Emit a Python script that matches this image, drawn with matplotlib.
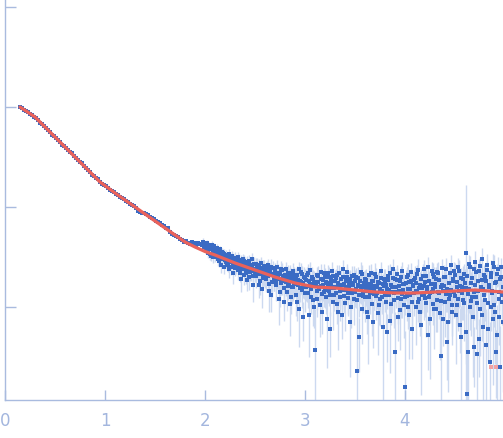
import matplotlib
matplotlib.use('Agg')
import matplotlib.pyplot as plt
from matplotlib.ticker import NullLocator
import numpy as np

# low-q part of the curve (log10 intensity), q step 0.02 from 0.15
logi_lo = [0.00, -0.01, -0.03, -0.04, -0.05, -0.07, -0.08, -0.10, -0.11, -0.13,
           -0.16, -0.17, -0.19, -0.21, -0.23, -0.25, -0.28, -0.29, -0.31, -0.33,
           -0.35, -0.38, -0.39, -0.41, -0.43, -0.45, -0.46, -0.49, -0.51, -0.53,
           -0.55, -0.56, -0.59, -0.61, -0.63, -0.65, -0.68, -0.69, -0.71, -0.72,
           -0.75, -0.77, -0.78, -0.79, -0.81, -0.83, -0.84, -0.85, -0.87, -0.88,
           -0.90, -0.91, -0.92, -0.94, -0.95, -0.97, -0.98, -0.99, -1.01, -1.04,
           -1.05, -1.06, -1.06, -1.07, -1.08, -1.10, -1.11, -1.12, -1.14, -1.15,
           -1.16, -1.18, -1.19, -1.21, -1.21, -1.25, -1.27, -1.28, -1.29, -1.30,
           -1.32, -1.33, -1.35, -1.34, -1.36, -1.37, -1.35, -1.36, -1.38, -1.36,
           -1.37]

# high-q noisy part (log10 intensity), q step 0.01 from 1.97
logi_hi = [-1.38, -1.35, -1.40,
           -1.39, -1.41, -1.36, -1.44, -1.40, -1.47, -1.42, -1.38, -1.50, -1.43,
           -1.44, -1.47, -1.41, -1.52, -1.46, -1.49, -1.58, -1.45, -1.50, -1.47,
           -1.53, -1.48, -1.56, -1.50, -1.62, -1.52, -1.55, -1.49, -1.66, -1.54,
           -1.51, -1.58, -1.55, -1.63, -1.53, -1.57, -1.72, -1.56, -1.60, -1.54,
           -1.59, -1.66, -1.55, -1.62, -1.70, -1.58, -1.64, -1.60, -1.78, -1.57,
           -1.62, -1.69, -1.58, -1.66, -1.60, -1.74, -1.64, -1.82, -1.61, -1.68,
           -1.65, -1.72, -1.62, -1.69, -1.84, -1.66, -1.60, -1.75, -1.67, -1.71,
           -1.64, -1.78, -1.70, -1.66, -1.92, -1.72, -1.62, -1.74, -1.69, -1.81,
           -1.68, -1.75, -1.85, -1.66, -1.72, -1.97, -1.70, -1.80, -1.64, -1.76,
           -1.72, -1.88, -1.68, -1.78, -2.02, -1.74, -1.65, -1.83, -1.76, -1.70,
           -1.86, -1.73, -1.79, -1.66, -2.08, -1.77, -1.82, -1.70, -1.93, -1.75,
           -2.43, -1.76, -1.84, -1.69, -1.80, -1.98, -1.72, -1.87, -1.78, -1.66,
           -1.83, -1.75, -2.12, -1.79, -1.70, -1.88, -1.77, -1.64, -1.95, -1.81,
           -1.74, -1.86, -1.68, -2.05, -1.79, -1.90, -1.72, -1.83, -1.62, -1.77,
           -1.96, -1.80, -1.70, -1.86, -1.75, -2.15, -1.84, -1.69, -1.78, -1.92,
           -1.74, -1.82, -2.64, -1.71, -1.88, -1.79, -1.65, -2.02, -1.85, -1.76,
           -1.90, -1.73, -1.81, -2.10, -1.68, -1.86, -1.78, -1.97, -1.74, -1.83,
           -1.67, -1.89, -1.80, -2.06, -1.76, -1.92, -1.71, -1.84, -2.20, -1.79,
           -1.74, -1.95, -1.82, -1.69, -1.88, -2.14, -1.78, -1.85, -1.62, -1.93,
           -2.45, -1.80, -1.73, -1.91, -1.84, -2.03, -1.70, -1.87, -1.77, -1.98,
           -2.80, -1.76, -1.89, -1.68, -2.08, -1.82, -1.74, -1.95, -1.79, -1.86,
           -1.71, -2.00, -1.84, -1.63, -1.92, -1.78, -2.18, -1.81, -1.69, -1.88,
           -1.75, -1.96, -1.83, -1.60, -1.90, -2.12, -1.77, -1.85, -1.67, -2.02,
           -1.80, -1.72, -1.93, -1.66, -1.86, -2.06, -2.49, -1.78, -1.84, -1.70,
           -1.95, -1.62, -1.82, -2.15, -1.76, -1.88, -1.58, -1.98, -1.74, -1.85,
           -1.68, -2.08, -1.80, -1.92, -1.64, -1.79, -2.30, -1.86, -1.72, -1.96,
           -1.76, -1.46, -2.87, -2.45, -1.82, -1.60, -1.94, -1.71, -2.10, -1.85,
           -1.55, -1.90, -2.47, -1.74, -1.64, -2.02, -1.80, -1.52, -2.20, -1.88,
           -1.70, -2.38, -1.58, -1.96, -1.78, -2.55, -1.66, -1.84, -2.12, -1.60,
           -2.05, -1.75, -2.28, -1.62, -1.92, -2.60, -1.70, -1.88, -2.15]

# relative errors of the high-q points
relerr_hi = [0.08, 0.09, 0.08,
             0.09, 0.10, 0.08, 0.11, 0.09, 0.12, 0.10, 0.09, 0.13, 0.10,
             0.10, 0.12, 0.09, 0.14, 0.11, 0.12, 0.16, 0.10, 0.13, 0.12,
             0.14, 0.12, 0.16, 0.13, 0.19, 0.14, 0.15, 0.12, 0.22, 0.15,
             0.14, 0.18, 0.16, 0.21, 0.15, 0.17, 0.26, 0.16, 0.19, 0.15,
             0.18, 0.22, 0.16, 0.20, 0.26, 0.17, 0.21, 0.19, 0.32, 0.17,
             0.19, 0.24, 0.17, 0.22, 0.19, 0.28, 0.21, 0.36, 0.19, 0.23,
             0.21, 0.26, 0.19, 0.24, 0.38, 0.22, 0.19, 0.29, 0.23, 0.26,
             0.20, 0.31, 0.24, 0.22, 0.45, 0.26, 0.20, 0.28, 0.24, 0.34,
             0.22, 0.28, 0.36, 0.21, 0.26, 0.52, 0.24, 0.32, 0.21, 0.29,
             0.25, 0.38, 0.23, 0.30, 0.58, 0.27, 0.22, 0.34, 0.29, 0.25,
             0.36, 0.27, 0.31, 0.23, 0.62, 0.30, 0.34, 0.25, 0.45, 0.29,
             1.60, 0.29, 0.35, 0.25, 0.32, 0.52, 0.27, 0.38, 0.31, 0.24,
             0.34, 0.29, 0.68, 0.32, 0.26, 0.39, 0.31, 0.23, 0.48, 0.33,
             0.29, 0.38, 0.26, 0.58, 0.32, 0.42, 0.28, 0.35, 0.24, 0.31,
             0.48, 0.33, 0.27, 0.38, 0.30, 0.72, 0.36, 0.27, 0.32, 0.45,
             0.30, 0.35, 2.40, 0.28, 0.40, 0.33, 0.26, 0.55, 0.37, 0.31,
             0.44, 0.30, 0.35, 0.66, 0.27, 0.39, 0.33, 0.52, 0.30, 0.37,
             0.28, 0.42, 0.35, 0.62, 0.32, 0.46, 0.29, 0.38, 0.82, 0.34,
             0.31, 0.50, 0.37, 0.28, 0.42, 0.70, 0.34, 0.39, 0.26, 0.47,
             1.50, 0.36, 0.31, 0.45, 0.39, 0.60, 0.30, 0.42, 0.34, 0.53,
             2.60, 0.34, 0.44, 0.29, 0.64, 0.38, 0.33, 0.50, 0.36, 0.41,
             0.32, 0.58, 0.40, 0.28, 0.48, 0.36, 0.80, 0.38, 0.31, 0.44,
             0.35, 0.54, 0.40, 0.27, 0.47, 0.75, 0.36, 0.42, 0.30, 0.60,
             0.39, 0.33, 0.52, 0.30, 0.45, 0.66, 1.70, 0.37, 0.42, 0.32,
             0.55, 0.28, 0.41, 0.80, 0.36, 0.48, 0.26, 0.60, 0.35, 0.45,
             0.32, 0.68, 0.40, 0.52, 0.30, 0.39, 1.05, 0.46, 0.34, 0.58,
             0.38, 3.80, 3.00, 1.80, 0.43, 0.30, 0.55, 0.35, 0.75, 0.47,
             0.30, 0.52, 1.70, 0.36, 0.32, 0.66, 0.41, 0.29, 0.85, 0.50,
             0.35, 1.30, 0.30, 0.58, 0.40, 1.50, 0.34, 0.46, 0.78, 0.31,
             0.70, 0.38, 1.00, 0.32, 0.55, 1.60, 0.36, 0.50, 0.80]

# interleaved high-q points, q step 0.01 from 2.005
logi_hi2 = [-1.37, -1.43, -1.40, -1.46, -1.38, -1.42, -1.49, -1.41, -1.44, -1.39,
            -1.50, -1.43, -1.48, -1.45, -1.54, -1.42, -1.49, -1.52, -1.46, -1.60,
            -1.49, -1.55, -1.51, -1.58, -1.47, -1.53, -1.60, -1.50, -1.57, -1.52,
            -1.61, -1.53, -1.57, -1.50, -1.59, -1.66, -1.54, -1.62, -1.52, -1.68,
            -1.56, -1.63, -1.73, -1.58, -1.54, -1.65, -1.60, -1.52, -1.69, -1.62,
            -1.66, -1.57, -1.63, -1.78, -1.60, -1.67, -1.56, -1.71, -1.64, -1.59,
            -1.70, -1.63, -1.67, -1.58, -1.77, -1.64, -1.88, -1.68, -1.61, -1.73,
            -1.68, -1.74, -1.60, -1.71, -1.85, -1.67, -1.76, -1.63, -1.70, -1.95,
            -1.72, -1.62, -1.79, -1.69, -1.76, -1.66, -1.90, -1.74, -1.80, -1.68,
            -1.77, -1.69, -1.95, -1.73, -1.62, -1.81, -1.75, -1.67, -2.10, -1.79,
            -1.71, -1.80, -1.68, -1.86, -1.74, -1.63, -1.90, -1.77, -1.72, -2.00,
            -1.78, -1.68, -1.92, -1.75, -1.82, -1.65, -1.79, -2.05, -1.73, -1.85,
            -1.70, -1.90, -1.76, -1.66, -1.84, -2.22, -1.73, -1.81, -1.69, -1.88,
            -1.80, -1.71, -1.97, -1.76, -1.66, -1.84, -2.08, -1.78, -1.70, -1.89,
            -1.74, -1.83, -1.65, -1.91, -1.79, -1.72, -2.00, -1.86, -1.76, -1.68,
            -1.85, -1.70, -1.93, -1.78, -2.30, -1.74, -1.82, -1.67, -1.89, -1.80,
            -1.72, -1.84, -2.05, -1.77, -1.90, -1.66, -1.81, -1.74, -2.15, -1.87,
            -1.79, -1.70, -1.86, -1.75, -1.98, -1.82, -1.64, -1.90, -1.77, -1.72,
            -1.88, -1.78, -2.25, -1.73, -1.83, -1.66, -1.97, -1.80, -1.71, -1.86,
            -1.72, -1.85, -1.67, -2.10, -1.79, -1.74, -1.92, -1.64, -1.83, -1.77,
            -1.90, -1.70, -1.82, -2.00, -1.75, -1.88, -1.65, -2.22, -1.78, -1.73,
            -1.84, -1.76, -1.67, -1.95, -1.81, -2.05, -1.72, -1.88, -1.62, -1.79,
            -1.91, -1.69, -1.80, -2.28, -1.74, -1.86, -1.64, -1.97, -1.82, -1.70,
            -1.77, -2.02, -1.65, -1.85, -1.73, -1.94, -1.80, -1.61, -2.12, -1.79,
            -1.70, -1.87, -2.35, -1.76, -1.92, -1.66, -1.83, -2.05, -1.72, -1.64,
            -1.89, -1.75, -1.98, -1.60, -1.84, -2.18, -1.71, -1.80, -1.93, -1.67,
            -1.81, -2.25, -1.69, -1.87, -1.57, -2.00, -1.76, -1.90, -1.62, -2.40,
            -1.78, -1.65, -1.96, -1.84, -2.32, -1.59, -1.73, -2.08, -1.82, -1.68,
            -1.93, -1.74, -1.63, -2.22, -1.80, -1.70, -2.00, -1.86, -1.56, -1.98,
            -1.76, -2.45, -1.67, -1.85, -2.10, -1.72, -1.60, -1.95, -1.80, -1.88]

relerr_hi2 = [0.07, 0.09, 0.08, 0.10, 0.07, 0.09, 0.11, 0.08, 0.10, 0.08,
              0.10, 0.09, 0.10, 0.09, 0.12, 0.08, 0.11, 0.12, 0.10, 0.14,
              0.12, 0.13, 0.11, 0.15, 0.11, 0.12, 0.16, 0.11, 0.15, 0.12,
              0.16, 0.13, 0.15, 0.12, 0.16, 0.19, 0.14, 0.17, 0.13, 0.20,
              0.15, 0.18, 0.23, 0.16, 0.14, 0.19, 0.17, 0.14, 0.21, 0.18,
              0.19, 0.15, 0.18, 0.26, 0.17, 0.20, 0.15, 0.23, 0.18, 0.16,
              0.22, 0.18, 0.20, 0.16, 0.25, 0.19, 0.32, 0.21, 0.17, 0.23,
              0.20, 0.24, 0.17, 0.22, 0.30, 0.20, 0.25, 0.18, 0.22, 0.36,
              0.22, 0.18, 0.27, 0.21, 0.25, 0.19, 0.33, 0.23, 0.27, 0.20,
              0.25, 0.21, 0.35, 0.23, 0.18, 0.27, 0.24, 0.20, 0.42, 0.26,
              0.22, 0.27, 0.21, 0.30, 0.24, 0.19, 0.33, 0.25, 0.22, 0.38,
              0.26, 0.21, 0.34, 0.24, 0.28, 0.20, 0.27, 0.40, 0.24, 0.30,
              0.22, 0.33, 0.25, 0.21, 0.29, 0.48, 0.24, 0.28, 0.21, 0.31,
              0.27, 0.23, 0.37, 0.25, 0.21, 0.29, 0.42, 0.26, 0.22, 0.32,
              0.25, 0.29, 0.21, 0.34, 0.27, 0.24, 0.38, 0.30, 0.25, 0.22,
              0.30, 0.23, 0.35, 0.27, 0.55, 0.25, 0.29, 0.22, 0.32, 0.28,
              0.24, 0.30, 0.40, 0.27, 0.33, 0.22, 0.29, 0.25, 0.45, 0.31,
              0.28, 0.23, 0.31, 0.26, 0.37, 0.29, 0.22, 0.33, 0.27, 0.25,
              0.32, 0.27, 0.50, 0.25, 0.30, 0.22, 0.38, 0.28, 0.25, 0.32,
              0.25, 0.31, 0.23, 0.42, 0.28, 0.26, 0.35, 0.22, 0.30, 0.27,
              0.34, 0.25, 0.30, 0.40, 0.27, 0.33, 0.23, 0.50, 0.28, 0.26,
              0.31, 0.28, 0.24, 0.37, 0.30, 0.42, 0.26, 0.34, 0.23, 0.29,
              0.36, 0.25, 0.29, 0.55, 0.27, 0.33, 0.23, 0.39, 0.30, 0.25,
              0.28, 0.41, 0.24, 0.32, 0.27, 0.37, 0.29, 0.23, 0.46, 0.28,
              0.26, 0.34, 0.58, 0.28, 0.36, 0.25, 0.31, 0.42, 0.27, 0.24,
              0.34, 0.28, 0.39, 0.24, 0.32, 0.48, 0.26, 0.30, 0.37, 0.25,
              0.31, 0.52, 0.26, 0.34, 0.23, 0.41, 0.28, 0.36, 0.24, 0.60,
              0.30, 0.25, 0.40, 0.33, 0.58, 0.24, 0.28, 0.45, 0.31, 0.26,
              0.38, 0.28, 0.25, 0.52, 0.31, 0.27, 0.43, 0.34, 0.23, 0.40,
              0.29, 0.65, 0.26, 0.34, 0.47, 0.28, 0.24, 0.40, 0.31, 0.36]

# fitted model curve
fit_q = [0.15, 0.30, 0.45, 0.60, 0.80, 0.95, 1.10, 1.30, 1.50, 1.70, 1.80, 1.90,
         2.00, 2.10, 2.30, 2.50, 2.70, 2.90, 3.10, 3.30, 3.50, 3.70, 3.90, 4.10,
         4.30, 4.50, 4.70, 4.98]
fit_log = [0.00, -0.10, -0.25, -0.40, -0.60, -0.75, -0.86, -1.00, -1.14, -1.28, -1.35, -1.40,
           -1.445, -1.48, -1.56, -1.63, -1.70, -1.76, -1.80, -1.81, -1.83, -1.85, -1.86, -1.86,
           -1.85, -1.84, -1.83, -1.85]

# two faint red points at the far end
pink_q = [4.86, 4.91]
pink_log = [-2.60, -2.60]

q_lo = 0.15 + 0.02 * np.arange(len(logi_lo))
q_hi = np.concatenate([1.97 + 0.01 * np.arange(len(logi_hi)),
                       2.005 + 0.01 * np.arange(len(logi_hi2))])
I_lo = 10 ** np.array(logi_lo)
I_hi = 10 ** np.array(logi_hi + logi_hi2)
err_hi = I_hi * np.array(relerr_hi + relerr_hi2)

axcol = '#a9bbdf'
blue = '#3a6bc4'

fig = plt.figure(figsize=(5.03, 4.38), dpi=100)
ax = fig.add_axes([5 / 503, 38 / 438, 498 / 503, 400 / 438])
ax.set_yscale('log')

ax.errorbar(q_hi, I_hi, yerr=err_hi, fmt='none', ecolor='#ccd9f0', elinewidth=1, zorder=1)
ax.plot(q_lo, I_lo, 's', color=blue, ms=3.0, mew=0, zorder=2)
ax.plot(q_hi, I_hi, 's', color=blue, ms=2.6, mew=0, zorder=2)
ax.plot(fit_q, 10 ** np.array(fit_log), color='#ea625a', lw=2.3, zorder=3, solid_capstyle='round')
ax.plot(pink_q, 10 ** np.array(pink_log), 's', color='#f4a3a3', ms=2.5, mew=0, zorder=2)

ax.set_xlim(0, 4.98)
ax.set_ylim(10 ** -2.93, 10 ** 1.07)
ax.set_xticks([0, 1, 2, 3, 4])
ax.set_yticks([1e-2, 1e-1, 1, 10])
ax.yaxis.set_minor_locator(NullLocator())
ax.tick_params(direction='in', length=7, width=1, color=axcol, labelcolor='#a3b6de',
               labelsize=12, pad=9)
ax.tick_params(axis='y', labelleft=False, length=8)

for s in ['top', 'right']:
    ax.spines[s].set_visible(False)
for s in ['left', 'bottom']:
    ax.spines[s].set_color(axcol)
    ax.spines[s].set_linewidth(1)

plt.savefig('out.png', dpi=100)
